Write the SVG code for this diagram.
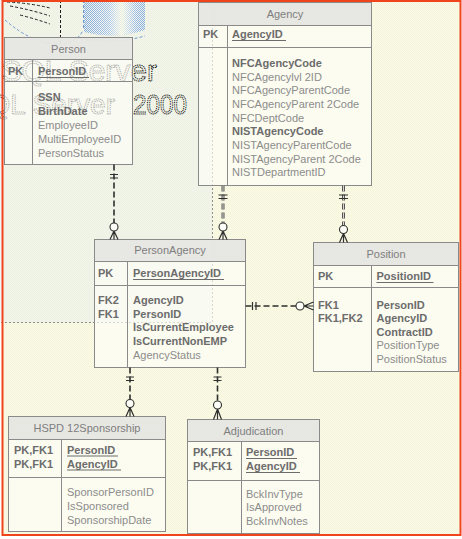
<svg xmlns="http://www.w3.org/2000/svg" width="462" height="539" viewBox="0 0 462 539">
  <defs>
    <pattern id="paper" width="2" height="2" patternUnits="userSpaceOnUse">
      <rect width="2" height="2" fill="#fcfce6"/>
      <rect width="1" height="1" fill="#f4f4dc"/>
      <rect x="1" y="1" width="1" height="1" fill="#f4f4dc"/>
    </pattern>
    <pattern id="dots" width="2" height="2" patternUnits="userSpaceOnUse">
      <rect width="1" height="1" fill="#7fa8dc"/>
      <rect x="1" y="1" width="1" height="1" fill="#7fa8dc"/>
    </pattern>
    <linearGradient id="drumfade" x1="84" y1="0" x2="145" y2="0" gradientUnits="userSpaceOnUse">
      <stop offset="0" stop-color="#fff" stop-opacity="0"/>
      <stop offset="0.4" stop-color="#fff" stop-opacity=".3"/>
      <stop offset="0.62" stop-color="#fdfde8" stop-opacity=".85"/>
      <stop offset="0.85" stop-color="#fff" stop-opacity=".2"/>
      <stop offset="1" stop-color="#fff" stop-opacity="0"/>
    </linearGradient>
  </defs>
  <style>
    text{font-family:"Liberation Sans",Arial,Helvetica,sans-serif;font-size:11px}
    .box{fill:#fdfdf8;fill-opacity:.66;stroke:#8a8a8a;stroke-width:1}
    .head{fill:#e4e4e0;fill-opacity:.88;stroke:#8a8a8a;stroke-width:1}
    .sep{stroke:#8a8a8a;stroke-width:1}
    .t{fill:#7e7e7e;text-anchor:middle}
    .k{fill:#6c6c6c;font-weight:bold}
    .f{fill:#8c8c8c}
    .ul{stroke:#6c6c6c;stroke-width:1}
    .rel{fill:none;stroke:#2e2e2e;stroke-width:1.6;stroke-dasharray:6 3}
    .relw{fill:none;stroke:#555;stroke-width:3;stroke-dasharray:6 3}
    .reli{fill:none;stroke:#d8d8d0;stroke-width:1;stroke-dasharray:6 3}
    .mk{fill:none;stroke:#2e2e2e;stroke-width:1.2}
    .ring{fill:#fdfdf8;stroke:#2e2e2e;stroke-width:1.1}
    .wm{fill:none;stroke:#000;stroke-width:1;stroke-dasharray:1.2 .9}
  </style>

  <!-- canvas and paper -->
  <rect width="462" height="539" fill="#ffffff"/>
  <rect x="2.5" y="1" width="458" height="534" fill="url(#paper)"/>

  <!-- backdrop artwork -->
  <g id="backdrop">
    <rect x="0" y="0" width="212.5" height="322.5" fill="#dfe7f0" opacity=".35"/>
    <path d="M84 0H145V30Q115 40 84 32Z" fill="url(#dots)"/>
    <path d="M84 0H145V30Q115 40 84 32Z" fill="url(#drumfade)"/>
    <path d="M83.5 0V30M5 20Q35 46 62 44Q78 42 83 30M80 38Q112 45 145 36" fill="none" stroke="#5d8fd0" stroke-width=".9" stroke-dasharray="3 2"/>
    <path d="M7 2Q30 3 50 8M10 6Q32 10 50 16M20 15Q36 19 50 24M60.5 0V45" fill="none" stroke="#1e1e1e" stroke-width="1" stroke-dasharray="3 2"/>
    <text class="wm" x="157" y="81" text-anchor="end" style="font-size:30px">SQL Server</text>
    <text class="wm" x="115" y="114" text-anchor="end" style="font-size:28px">SQL Server</text>
    <text class="wm" x="133" y="114" textLength="54" lengthAdjust="spacingAndGlyphs" style="font-size:28px">2000</text>
    <path d="M212.5 0V322.5H0" fill="none" stroke="#8e8e8e" stroke-width="1" stroke-dasharray="2 2"/>
  </g>

  <!-- Person -->
  <g id="person">
    <rect class="box" x="4.5" y="37.5" width="128" height="127"/>
    <rect class="head" x="4.5" y="37.5" width="128" height="22"/>
    <line class="sep" x1="4.5" y1="81.5" x2="132.5" y2="81.5"/>
    <line class="sep" x1="32.5" y1="59.5" x2="32.5" y2="164.5"/>
    <text class="t" x="68.5" y="53">Person</text>
    <text class="k" x="8" y="75">PK</text>
    <text class="k" x="38" y="75">PersonID</text>
    <line class="ul" x1="38" y1="77.5" x2="89" y2="77.5"/>
    <text class="k" x="38" y="101">SSN</text>
    <text class="k" x="38" y="115">BirthDate</text>
    <text class="f" x="38" y="129">EmployeeID</text>
    <text class="f" x="38" y="143">MultiEmployeeID</text>
    <text class="f" x="38" y="157">PersonStatus</text>
  </g>

  <!-- Agency -->
  <g id="agency">
    <rect class="box" x="198.5" y="2.5" width="173" height="183"/>
    <rect class="head" x="198.5" y="2.5" width="173" height="23"/>
    <line class="sep" x1="198.5" y1="47.5" x2="371.5" y2="47.5"/>
    <line class="sep" x1="227.5" y1="25.5" x2="227.5" y2="185.5"/>
    <text class="t" x="285" y="18">Agency</text>
    <text class="k" x="203" y="38">PK</text>
    <text class="k" x="232" y="38">AgencyID</text>
    <line class="ul" x1="232" y1="40.5" x2="286" y2="40.5"/>
    <text class="k" x="232" y="67">NFCAgencyCode</text>
    <text class="f" x="232" y="80.7">NFCAgencylvl 2ID</text>
    <text class="f" x="232" y="94.3">NFCAgencyParentCode</text>
    <text class="f" x="232" y="108">NFCAgencyParent 2Code</text>
    <text class="f" x="232" y="121.6">NFCDeptCode</text>
    <text class="k" x="232" y="135.3">NISTAgencyCode</text>
    <text class="f" x="232" y="148.9">NISTAgencyParentCode</text>
    <text class="f" x="232" y="162.6">NISTAgencyParent 2Code</text>
    <text class="f" x="232" y="176.2">NISTDepartmentID</text>
  </g>

  <!-- PersonAgency -->
  <g id="personagency">
    <rect class="box" x="94.5" y="239.5" width="151" height="128"/>
    <rect class="head" x="94.5" y="239.5" width="151" height="22"/>
    <line class="sep" x1="94.5" y1="285.5" x2="245.5" y2="285.5"/>
    <line class="sep" x1="127.5" y1="261.5" x2="127.5" y2="367.5"/>
    <text class="t" x="170" y="254">PersonAgency</text>
    <text class="k" x="98" y="277">PK</text>
    <text class="k" x="133" y="277">PersonAgencyID</text>
    <line class="ul" x1="133" y1="279.5" x2="224" y2="279.5"/>
    <text class="k" x="98" y="304">FK2</text>
    <text class="k" x="98" y="317.7">FK1</text>
    <text class="k" x="133" y="304">AgencyID</text>
    <text class="k" x="133" y="317.7">PersonID</text>
    <text class="k" x="133" y="331.4">IsCurrentEmployee</text>
    <text class="k" x="133" y="345.1">IsCurrentNonEMP</text>
    <text class="f" x="133" y="358.8">AgencyStatus</text>
  </g>

  <!-- Position -->
  <g id="position">
    <rect class="box" x="313.5" y="242.5" width="145" height="129"/>
    <rect class="head" x="313.5" y="242.5" width="145" height="23"/>
    <line class="sep" x1="313.5" y1="287.5" x2="458.5" y2="287.5"/>
    <line class="sep" x1="371.5" y1="265.5" x2="371.5" y2="371.5"/>
    <text class="t" x="386" y="257.5">Position</text>
    <text class="k" x="318" y="280">PK</text>
    <text class="k" x="376.5" y="280">PositionID</text>
    <line class="ul" x1="376.5" y1="282.5" x2="433.5" y2="282.5"/>
    <text class="k" x="318" y="308.5">FK1</text>
    <text class="k" x="318" y="322">FK1,FK2</text>
    <text class="k" x="376.5" y="308.5">PersonID</text>
    <text class="k" x="376.5" y="322">AgencyID</text>
    <text class="k" x="376.5" y="335.6">ContractID</text>
    <text class="f" x="376.5" y="349.2">PositionType</text>
    <text class="f" x="376.5" y="362.9">PositionStatus</text>
  </g>

  <!-- HSPD12Sponsorship -->
  <g id="hspd12sponsorship">
    <rect class="box" x="8.5" y="416.5" width="157" height="115"/>
    <rect class="head" x="8.5" y="416.5" width="157" height="23"/>
    <line class="sep" x1="8.5" y1="477.5" x2="165.5" y2="477.5"/>
    <line class="sep" x1="61.5" y1="439.5" x2="61.5" y2="531.5"/>
    <text class="t" x="87" y="432">HSPD 12Sponsorship</text>
    <text class="k" x="14" y="453.5">PK,FK1</text>
    <text class="k" x="14" y="467.5">PK,FK1</text>
    <text class="k" x="67" y="453.5">PersonID</text>
    <line class="ul" x1="67" y1="456" x2="118" y2="456"/>
    <text class="k" x="67" y="467.5">AgencyID</text>
    <line class="ul" x1="67" y1="470" x2="121" y2="470"/>
    <text class="f" x="67" y="496">SponsorPersonID</text>
    <text class="f" x="67" y="510">IsSponsored</text>
    <text class="f" x="67" y="524">SponsorshipDate</text>
  </g>

  <!-- Adjudication -->
  <g id="adjudication">
    <rect class="box" x="187.5" y="419.5" width="132" height="114"/>
    <rect class="head" x="187.5" y="419.5" width="132" height="22"/>
    <line class="sep" x1="187.5" y1="480.5" x2="319.5" y2="480.5"/>
    <line class="sep" x1="241.5" y1="441.5" x2="241.5" y2="533.5"/>
    <text class="t" x="253.5" y="434.5">Adjudication</text>
    <text class="k" x="193" y="456">PK,FK1</text>
    <text class="k" x="193" y="470">PK,FK1</text>
    <text class="k" x="246" y="456">PersonID</text>
    <line class="ul" x1="246" y1="458.5" x2="297" y2="458.5"/>
    <text class="k" x="246" y="470">AgencyID</text>
    <line class="ul" x1="246" y1="472.5" x2="300" y2="472.5"/>
    <text class="f" x="246" y="497.5">BckInvType</text>
    <text class="f" x="246" y="511.3">IsApproved</text>
    <text class="f" x="246" y="525">BckInvNotes</text>
  </g>

  <!-- relationships: one-and-only-one to zero-or-many -->
  <g id="connectors">
    <!-- Person to PersonAgency -->
    <path class="rel" d="M114 164.5V223"/>
    <path class="mk" d="M110 174.5h8M110 178h8M114 231L110 239.5M114 231V239.5M114 231L118 239.5"/>
    <circle class="ring" cx="114" cy="227" r="4"/>

    <!-- Agency to PersonAgency -->
    <path class="relw" d="M223 185.5V223"/>
    <path class="reli" d="M223 185.5V223"/>
    <path class="mk" d="M218.5 195h9M218.5 198.5h9M223 231L219 239.5M223 231V239.5M223 231L227 239.5"/>
    <circle class="ring" cx="223" cy="227" r="4"/>

    <!-- Agency to Position -->
    <path class="relw" d="M343.5 185.5V225.5"/>
    <path class="reli" d="M343.5 185.5V225.5"/>
    <path class="mk" d="M339 195h9M339 198.5h9M343.5 233.5L339.5 242.5M343.5 233.5V242.5M343.5 233.5L347.5 242.5"/>
    <circle class="ring" cx="343.5" cy="229.5" r="4"/>

    <!-- PersonAgency to Position -->
    <path class="rel" d="M245.5 306H296"/>
    <path class="mk" d="M252.5 302v8M256 302v8M304 306L313.5 302M304 306H313.5M304 306L313.5 310"/>
    <circle class="ring" cx="300" cy="306" r="4"/>

    <!-- PersonAgency to HSPD12Sponsorship -->
    <path class="rel" d="M130 367.5V399.5"/>
    <path class="mk" d="M126 377h8M126 380.5h8M130 407.5L126 416.5M130 407.5V416.5M130 407.5L134 416.5"/>
    <circle class="ring" cx="130" cy="403.5" r="4"/>

    <!-- PersonAgency to Adjudication -->
    <path class="rel" d="M217.5 367.5V401"/>
    <path class="mk" d="M213.5 377h8M213.5 380.5h8M217.5 409L213.5 419.5M217.5 409V419.5M217.5 409L221.5 419.5"/>
    <circle class="ring" cx="217.5" cy="405" r="4"/>
  </g>

  <!-- frame -->
  <rect x="2.5" y="1" width="458" height="534" fill="none" stroke="#f0441c" stroke-width="2"/>
</svg>
